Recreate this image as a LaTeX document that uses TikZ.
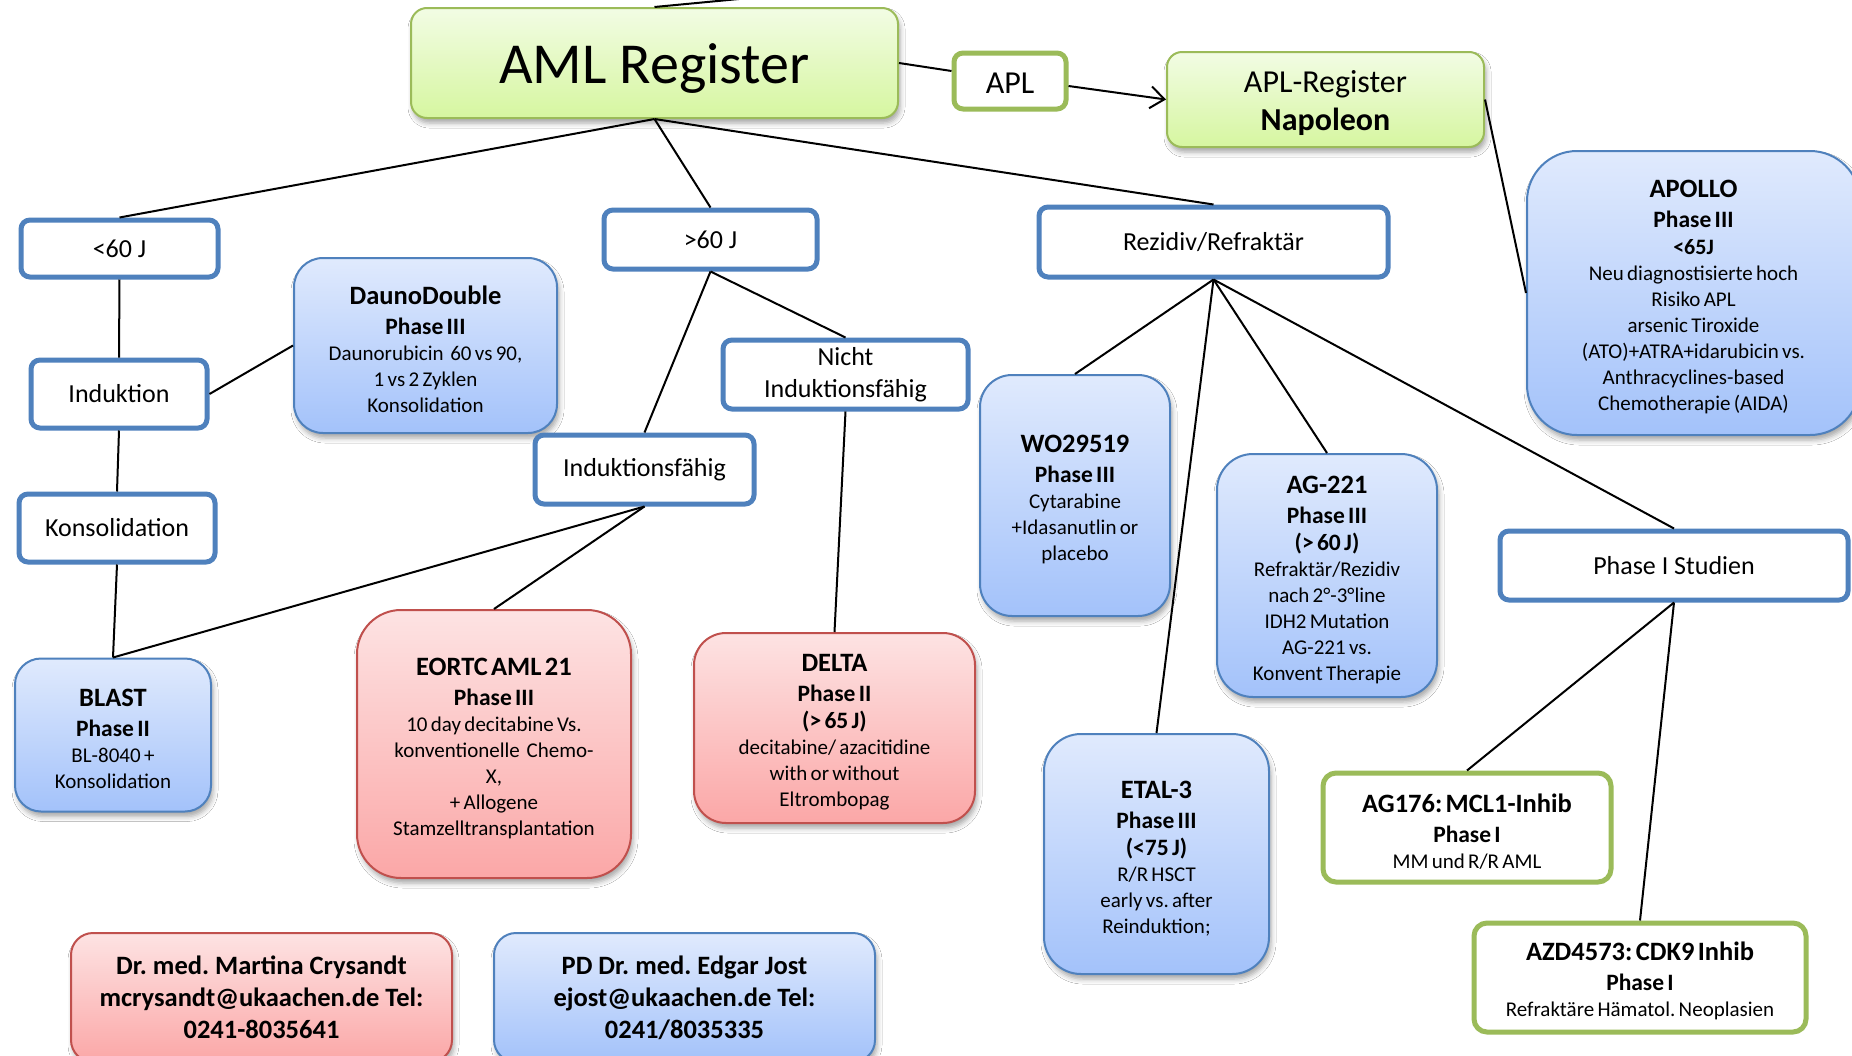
\documentclass[tikz,border=0pt]{standalone}
\usepackage{fontspec}
\setmainfont{Carlito}
\usetikzlibrary{shadows.blur,arrows.meta,calc}
\frenchspacing
\definecolor{bdblue}{HTML}{4F81BD}
\definecolor{bdred}{HTML}{C0504D}
\definecolor{bdgreen}{HTML}{9BBB59}
\definecolor{bltop}{HTML}{E0EAFD}
\definecolor{blbot}{HTML}{A3C2FA}
\definecolor{rdtop}{HTML}{FDE3E3}
\definecolor{rdbot}{HTML}{FBA7A7}
\definecolor{grtop}{HTML}{F2FCE4}
\definecolor{grbot}{HTML}{D6F6A0}
\newcommand\Ttl[1]{{\fontsize{26.5}{31}\selectfont\bfseries\rule{0pt}{26pt}#1\par}}
\newcommand\Phs[1]{{\fontsize{23.5}{30}\selectfont\bfseries #1\par}}
\newcommand\Age[1]{{\fontsize{23.5}{27}\selectfont\bfseries #1\par}}
\newcommand\Bdy[1]{{\fontsize{21}{26}\selectfont #1\par}}
\newcommand\Bdb[1]{{\fontsize{22}{27}\selectfont\bfseries #1\par}}
\begin{document}
\frenchspacing
\begin{tikzpicture}[x=1pt,y=-1pt,
  plainbox/.style={draw=bdblue, line width=5pt, fill=white, rounded corners=9pt, inner sep=0pt, font=\fontsize{26}{32}\selectfont, align=center},
  greenplain/.style={draw=bdgreen, line width=5pt, fill=white, rounded corners=13pt, inner sep=0pt, align=center},
  shadowed/.style={blur shadow={shadow xshift=2pt, shadow yshift=-5pt, shadow blur radius=5pt, shadow opacity=35}},
  bluegrad/.style={draw=bdblue, line width=2pt, top color=bltop, bottom color=blbot, shadowed, inner sep=0pt, align=center},
  redgrad/.style={draw=bdred, line width=2pt, top color=rdtop, bottom color=rdbot, shadowed, inner sep=0pt, align=center},
  greengrad/.style={draw=bdgreen, line width=2pt, top color=grtop, bottom color=grbot, shadowed, inner sep=0pt, align=center},
  conn/.style={draw=black, line width=2pt}
]
\useasboundingbox (0,0) rectangle (1852,1055);
\fill[white] (0,0) rectangle (1852,1055);

% top level
\node[greengrad, rounded corners=16pt, minimum width=487pt, minimum height=110pt, font=\fontsize{58}{62}\selectfont, text height=44pt, text depth=2.6pt] (aml) at (654.5,63) {AML Register};
\node[greenplain, rounded corners=9pt, minimum width=112pt, minimum height=56pt, font=\fontsize{32}{38}\selectfont, text height=27pt, text depth=1.6pt] (apl) at (1010,81) {APL};
\node[greengrad, rounded corners=15pt, minimum width=317pt, minimum height=95pt, text width=309pt] (aplreg) at (1325.5,99.5) {{\fontsize{32}{38}\selectfont\rule{0pt}{29pt}APL-Register\par}{\fontsize{32}{38}\selectfont\bfseries Napoleon\par}};
\node[bluegrad, rounded corners=50pt, minimum width=333pt, minimum height=284pt, text width=320pt] (apollo) at (1693.5,293) {\Ttl{APOLLO}\Phs{Phase III}\Bdb{<65J}\Bdy{Neu diagnostisierte hoch}\Bdy{Risiko APL}\Bdy{arsenic Tiroxide}\Bdy{(ATO)+ATRA+idarubicin vs.}\Bdy{Anthracyclines-based}\Bdy{Chemotherapie (AIDA)}};
\coordinate (upout) at (760,-3);

% second level
\node[plainbox, minimum width=197pt, minimum height=57pt] (lt60) at (119.5,248.5) {<60 J};
\node[plainbox, minimum width=213pt, minimum height=59pt] (gt60) at (710.5,239.5) {>60 J};
\node[plainbox, minimum width=349pt, minimum height=70pt] (rez) at (1213.5,242) {Rezidiv/Refraktär};

% <60 branch
\node[plainbox, minimum width=176pt, minimum height=68pt] (induk) at (119,394) {Induktion};
\node[plainbox, minimum width=196pt, minimum height=68pt] (konsol) at (117,528) {Konsolidation};
\node[bluegrad, rounded corners=29pt, minimum width=263pt, minimum height=175pt, text width=255pt] (dauno) at (425.5,345.5) {\Ttl{DaunoDouble}\Phs{Phase III}\Bdy{Daunorubicin\ \ 60 vs 90,}\Bdy{1 vs 2 Zyklen}\Bdy{Konsolidation}};
\node[bluegrad, rounded corners=26pt, minimum width=196pt, minimum height=153pt, text width=188pt] (blast) at (113,735) {\Ttl{BLAST}\Phs{Phase II}\Bdy{BL-8040 +}\Bdy{Konsolidation}};

% >60 branch
\node[plainbox, minimum width=219pt, minimum height=69pt] (indf) at (644.5,469.5) {Induktionsfähig};
\node[plainbox, minimum width=245pt, minimum height=69pt] (nicht) at (845.5,374.5) {Nicht\\Induktionsfähig};
\node[redgrad, rounded corners=44pt, minimum width=274pt, minimum height=268pt, text width=266pt] (eortc) at (494,744) {\Ttl{EORTC AML 21}\Phs{Phase III}\Bdy{10 day decitabine Vs.}\Bdy{konventionelle\ \ Chemo-}\Bdy{X,}\Bdy{+ Allogene}\Bdy{Stamzelltransplantation}};
\node[redgrad, rounded corners=32pt, minimum width=281pt, minimum height=190pt, text width=273pt] (delta) at (834.5,728) {\Ttl{DELTA}\Phs{Phase II}\Age{(> 65 J)}\Bdy{decitabine/ azacitidine}\Bdy{with or without}\Bdy{Eltrombopag}};

% relapse branch
\node[bluegrad, rounded corners=32pt, minimum width=190pt, minimum height=241pt, text width=182pt] (wo) at (1075,495.5) {\Ttl{WO29519}\Phs{Phase III}\Bdy{Cytarabine}\Bdy{+Idasanutlin or}\Bdy{placebo}};
\node[bluegrad, rounded corners=36pt, minimum width=220pt, minimum height=243pt, text width=212pt] (ag221) at (1327,575.5) {\Ttl{AG-221}\Phs{Phase III}\Age{(> 60 J)}\Bdy{Refraktär/Rezidiv}\Bdy{nach 2°-3°line}\Bdy{IDH2 Mutation}\Bdy{AG-221 vs.}\Bdy{Konvent Therapie}};
\node[bluegrad, rounded corners=37pt, minimum width=225pt, minimum height=240pt, text width=217pt] (etal) at (1156.5,854) {\Ttl{ETAL-3}\Phs{Phase III}\Age{(<75 J)}\Bdy{R/R HSCT}\Bdy{early vs. after}\Bdy{Reinduktion;}};
\node[plainbox, minimum width=348pt, minimum height=69pt] (ph1) at (1674,565.5) {Phase I Studien};
\node[greenplain, minimum width=288pt, minimum height=109pt, text width=280pt] (ag176) at (1467,827.5) {\Ttl{AG176: MCL1-Inhib}\Phs{Phase I}\Bdy{MM und R/R AML}};
\node[greenplain, minimum width=332pt, minimum height=109pt, text width=324pt] (azd) at (1640,977.5) {\Ttl{AZD4573: CDK9 Inhib}\Phs{Phase I}\Bdy{Refraktäre Hämatol. Neoplasien}};

% contacts
\node[redgrad, rounded corners=22pt, minimum width=381pt, minimum height=129pt, font=\fontsize{26.5}{32}\selectfont\bfseries] (crys) at (261.5,997.5) {Dr. med. Martina Crysandt\\mcrysandt@ukaachen.de Tel:\\0241-8035641};
\node[bluegrad, rounded corners=22pt, minimum width=381pt, minimum height=129pt, font=\fontsize{26.5}{32}\selectfont\bfseries] (jost) at (684.5,997.5) {PD Dr. med. Edgar Jost\\ejost@ukaachen.de Tel:\\0241/8035335};

% connectors
\draw[conn] (aml.north) -- (upout);
\draw[conn] (aml.east) -- ([yshift=10pt]apl.west);
\draw[conn, -{Straight Barb[length=14pt,width=22pt]}] ([yshift=-5pt]apl.east) -- (aplreg.west);
\draw[conn] (aplreg.east) -- (apollo.west);
\draw[conn] (aml.south) -- (lt60.north);
\draw[conn] (aml.south) -- (gt60.north);
\draw[conn] (aml.south) -- (rez.north);
\draw[conn] (lt60.south) -- (induk.north);
\draw[conn] (induk.east) -- (dauno.west);
\draw[conn] (induk.south) -- (konsol.north);
\draw[conn] (konsol.south) -- (blast.north);
\draw[conn] (gt60.south) -- (indf.north);
\draw[conn] (gt60.south) -- (nicht.north);
\draw[conn] (indf.south) -- (blast.north);
\draw[conn] (indf.south) -- (eortc.north);
\draw[conn] (nicht.south) -- (delta.north);
\draw[conn] (rez.south) -- (wo.north);
\draw[conn] (rez.south) -- (etal.north);
\draw[conn] (rez.south) -- (ag221.north);
\draw[conn] (rez.south) -- (ph1.north);
\draw[conn] (ph1.south) -- (ag176.north);
\draw[conn] (ph1.south) -- (azd.north);
\end{tikzpicture}
\end{document}
